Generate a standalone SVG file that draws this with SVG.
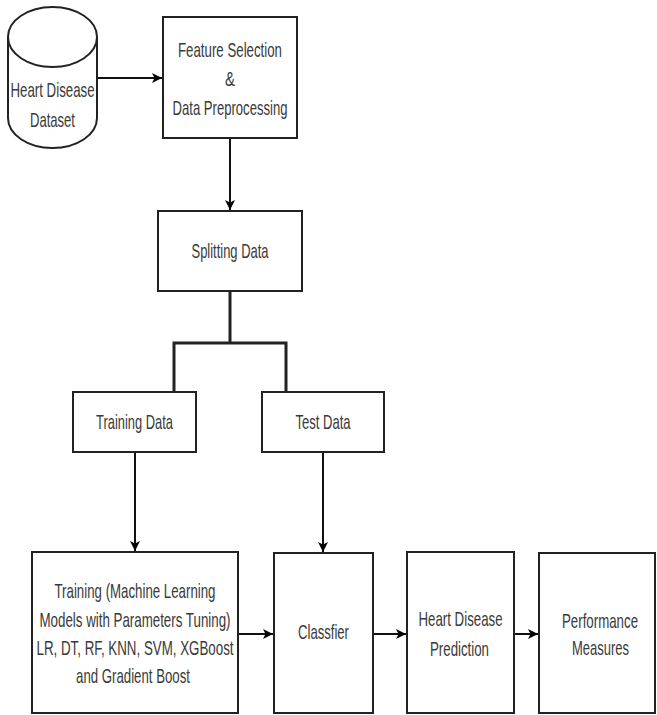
<svg xmlns="http://www.w3.org/2000/svg" width="657" height="715" viewBox="0 0 657 715">
<defs>
<marker id="arr" viewBox="0 0 10 10" refX="10" refY="5" markerWidth="5" markerHeight="5" orient="auto" markerUnits="strokeWidth">
<path d="M0,0 L10,5 L0,10 L2.5,5 Z" fill="#000"/>
</marker>
<style>
.box{fill:#fff;stroke:#222;stroke-width:2}
.t{font-family:"Liberation Sans",Arial,sans-serif;font-size:20px;fill:#3a3a3a;text-anchor:middle}
.c{fill:none;stroke:#111;stroke-width:2}
.cb{fill:none;stroke:#222;stroke-width:3}
</style>
</defs>
<rect width="657" height="715" fill="#fff"/>
<g id="connectors">
<path class="c" d="M97,78 H162" marker-end="url(#arr)"/>
<path class="c" d="M230,138 V210" marker-end="url(#arr)"/>
<path class="cb" d="M230,291 V343 M174,392 V343 H286 V392"/>
<path class="c" d="M135,452 V551" marker-end="url(#arr)"/>
<path class="c" d="M323,452 V552" marker-end="url(#arr)"/>
<path class="c" d="M238,634 H273" marker-end="url(#arr)"/>
<path class="c" d="M373,634 H406" marker-end="url(#arr)"/>
<path class="c" d="M514,634 H538" marker-end="url(#arr)"/>
</g>
<g id="dataset">
<path class="box" d="M8,37 A44.5,30 0 0 1 97,37 V118 A44.5,30 0 0 1 8,118 Z"/>
<path class="box" fill="none" d="M8,37 A44.5,30 0 0 0 97,37"/>
<text class="t" transform="translate(52.5,97) scale(0.72,1)" textLength="116.7" lengthAdjust="spacingAndGlyphs">Heart Disease</text>
<text class="t" transform="translate(52.5,127) scale(0.72,1)" textLength="62.5" lengthAdjust="spacingAndGlyphs">Dataset</text>
</g>
<g id="feature">
<rect class="box" x="163" y="17" width="134" height="121"/>
<text class="t" transform="translate(230,57) scale(0.72,1)" textLength="144.4" lengthAdjust="spacingAndGlyphs">Feature Selection</text>
<text class="t" transform="translate(230,86) scale(0.72,1)" textLength="13.9" lengthAdjust="spacingAndGlyphs">&amp;</text>
<text class="t" transform="translate(230,115) scale(0.72,1)" textLength="159.7" lengthAdjust="spacingAndGlyphs">Data Preprocessing</text>
</g>
<g id="splitting">
<rect class="box" x="158" y="211" width="144" height="80"/>
<text class="t" transform="translate(230,258) scale(0.72,1)" textLength="106.9" lengthAdjust="spacingAndGlyphs">Splitting Data</text>
</g>
<g id="training-data">
<rect class="box" x="73" y="392" width="123" height="60"/>
<text class="t" transform="translate(134.5,429) scale(0.72,1)" textLength="106.9" lengthAdjust="spacingAndGlyphs">Training Data</text>
</g>
<g id="test-data">
<rect class="box" x="262" y="392" width="122" height="60"/>
<text class="t" transform="translate(323,429) scale(0.72,1)" textLength="76.4" lengthAdjust="spacingAndGlyphs">Test Data</text>
</g>
<g id="training">
<rect class="box" x="32" y="552" width="206" height="161"/>
<text class="t" transform="translate(135,598) scale(0.72,1)" textLength="223.6" lengthAdjust="spacingAndGlyphs">Training (Machine Learning</text>
<text class="t" transform="translate(135,627) scale(0.72,1)" textLength="265.3" lengthAdjust="spacingAndGlyphs">Models with Parameters Tuning)</text>
<text class="t" transform="translate(135,655) scale(0.72,1)" textLength="273.6" lengthAdjust="spacingAndGlyphs">LR, DT, RF, KNN, SVM, XGBoost</text>
<text class="t" transform="translate(133,683) scale(0.72,1)" textLength="158.3" lengthAdjust="spacingAndGlyphs">and Gradient Boost</text>
</g>
<g id="classifier">
<rect class="box" x="274" y="553" width="99" height="160"/>
<text class="t" transform="translate(323.5,639) scale(0.72,1)" textLength="70.8" lengthAdjust="spacingAndGlyphs">Classfier</text>
</g>
<g id="prediction">
<rect class="box" x="407" y="552" width="107" height="161"/>
<text class="t" transform="translate(460.5,626) scale(0.72,1)" textLength="116.7" lengthAdjust="spacingAndGlyphs">Heart Disease</text>
<text class="t" transform="translate(459.5,656) scale(0.72,1)" textLength="81.9" lengthAdjust="spacingAndGlyphs">Prediction</text>
</g>
<g id="performance">
<rect class="box" x="539" y="553" width="116" height="160"/>
<text class="t" transform="translate(600,628) scale(0.72,1)" textLength="105.6" lengthAdjust="spacingAndGlyphs">Performance</text>
<text class="t" transform="translate(600.5,655) scale(0.72,1)" textLength="79.2" lengthAdjust="spacingAndGlyphs">Measures</text>
</g>
</svg>
